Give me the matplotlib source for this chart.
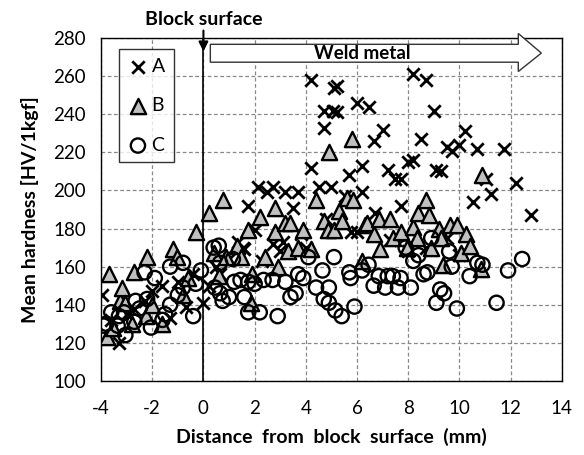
import numpy as np
import matplotlib
matplotlib.use('Agg')
from matplotlib import pyplot as plt
from matplotlib.patches import Polygon

plt.rcParams['font.family'] = ['Lato', 'DejaVu Sans']
plt.rcParams['axes.unicode_minus'] = False

# series A (x markers)
a_x = [-3.95, -3.3, -3.6, -3.0, -2.7, -2.3, -2.0, -1.6, -1.3, -1.0, -0.7, -0.4, 0.0, 0.2, 0.5,
       0.65, 1.0, 1.35, 1.55, 1.6, 1.75, 2.0, 2.15, 2.3, 2.5, 2.7, 2.7, 3.0, 3.1, 3.2, 3.5, 3.7,
       3.8, 4.0, 4.2, 4.2, 4.5, 4.7, 4.7, 4.8, 5.0, 5.05, 5.1, 5.2, 5.2, 5.55, 5.7, 5.75, 6.0,
       6.0, 6.2, 6.2, 6.45, 6.65, 6.7, 7.0, 7.2, 7.3, 7.5, 7.7, 7.7, 8.0, 8.0, 8.2, 8.2, 8.5,
       8.7, 8.7, 9.0, 9.1, 9.3, 9.5, 9.5, 9.7, 10.0, 10.0, 10.2, 10.55, 10.7, 11.05, 11.25,
       11.75, 12.2, 12.8]
a_y = [145, 120, 132, 135, 138, 142, 147, 150, 133, 152, 139, 156, 141, 150, 160,
       156, 164, 173, 170, 169, 192, 179, 202, 163, 199, 202, 172, 168, 173, 199, 191, 199,
       177, 170, 212, 258, 202, 242, 233, 185, 202, 242, 254, 255, 241, 197, 208, 178, 246,
       178, 213, 199, 244, 226, 188, 232, 211, 174, 206, 206, 192, 215, 168, 216, 261, 227,
       258, 170, 242, 211, 210, 223, 175, 221, 224, 166, 231, 194, 222, 206, 198,
       222, 204, 187]

# series B (triangles)
b_x = [-3.75, -3.7, -3.55, -3.25, -3.2, -3.05, -2.8, -2.7, -2.25, -2.2, -2.0, -1.6, -1.2,
       -1.05, -0.8, -0.6, -0.3, 0.2, 0.4, 0.6, 0.75, 0.9, 1.3, 1.45, 1.75, 1.85, 1.9, 2.2,
       2.4, 2.8, 2.8, 2.9, 3.2, 3.4, 3.3, 3.7, 3.9, 4.2, 4.4, 4.7, 4.85, 4.9, 5.1, 5.3, 5.4,
       5.6, 5.85, 5.8, 6.2, 6.3, 6.4, 6.65, 6.85, 6.9, 7.3, 7.4, 7.7, 7.95, 8.2, 8.35, 8.4,
       8.7, 8.8, 8.9, 9.2, 9.3, 9.35, 9.65, 9.9, 10.05, 10.25, 10.4, 10.85, 10.9]
b_y = [123, 156, 128, 142, 149, 141, 130, 157, 134, 165, 140, 130, 169,
       165, 145, 154, 178, 188, 167, 155, 195, 165, 171, 165, 179, 141, 156, 186,
       165, 191, 178, 160, 183, 183, 168, 170, 179, 169, 195, 184, 179, 220, 179, 189, 184,
       196, 195, 227, 163, 182, 183, 177, 185, 169, 185, 175, 178, 170, 181, 175, 188,
       195, 187, 170, 180, 175, 161, 182, 182, 167, 177, 171, 159, 208]

# series C (circles)
c_x = [-3.9, -3.8, -3.6, -3.35, -3.3, -3.1, -3.05, -2.7, -2.65, -2.5, -2.3, -2.2, -2.05,
       -1.9, -1.6, -1.5, -1.3, -1.3, -1.0, -0.8, -0.8, -0.4, -0.3, -0.1, 0.4, 0.45, 0.6,
       0.65, 0.65, 0.75, 1.0, 1.15, 1.2, 1.45, 1.6, 1.75, 1.75, 2.0, 2.2, 2.35, 2.7, 2.9,
       3.2, 3.4, 3.6, 3.7, 3.9, 4.1, 4.4, 4.65, 4.7, 4.9, 4.9, 5.1, 5.15, 5.4, 5.7, 5.75,
       5.9, 6.2, 6.45, 6.65, 6.85, 7.1, 7.2, 7.4, 7.6, 7.7, 7.9, 8.1, 8.2, 8.4, 8.6, 8.75,
       8.9, 9.1, 9.25, 9.4, 9.6, 9.7, 9.9, 10.4, 10.7, 10.9, 11.45, 11.9, 12.45]
c_y = [129, 130, 136, 129, 134, 136, 124, 131, 142, 138, 157, 143, 128,
       154, 132, 135, 160, 140, 145, 162, 149, 134, 151, 158, 170, 149, 171,
       162, 146, 142, 144, 164, 152, 153, 144, 152, 136, 151, 136, 153, 153, 134,
       152, 144, 146, 156, 154, 165, 149, 158, 143, 149, 141, 165, 137, 134, 157, 154,
       139, 158, 161, 150, 155, 149, 155, 155, 149, 154, 170, 149, 163, 166, 156, 157,
       175, 141, 148, 146, 168, 160, 138, 155, 162, 161, 141, 158, 164]

fig = plt.figure(figsize=(5.84, 4.55), dpi=100)
ax = fig.add_axes([0.173, 0.163, 0.789, 0.753])

ax.scatter(a_x, a_y, marker='x', s=80, c='black', linewidths=2.0, label='A', zorder=3)
ax.scatter(b_x, b_y, marker='^', s=120, c='#c0c0c0', edgecolors='black', linewidths=1.7,
           label='B', zorder=3)
ax.scatter(c_x, c_y, marker='o', s=105, facecolors='none', edgecolors='black',
           linewidths=1.7, label='C', zorder=4)

ax.set_xlim(-4, 14)
ax.set_ylim(100, 280)
ax.set_xticks(np.arange(-4, 15, 2))
ax.set_yticks(np.arange(100, 281, 20))
ax.tick_params(length=0, labelsize=13.5)
ax.tick_params(axis='x', pad=14)
ax.tick_params(axis='y', pad=11)
ax.grid(True, linestyle=(0, (3, 2)), color='#888888', linewidth=0.9)
ax.set_axisbelow(True)
ax.axvline(0, color='black', linewidth=1.2, zorder=2)
for s in ax.spines.values():
    s.set_linewidth(1.0)

ax.set_xlabel('Distance  from  block  surface  (mm)', fontsize=14, fontweight='bold', labelpad=8)
ax.set_ylabel('Mean hardness [HV/1kgf]', fontsize=14, fontweight='bold', labelpad=10)

leg = ax.legend(loc='upper left', bbox_to_anchor=(0.04, 0.968), fontsize=14, frameon=True,
                fancybox=False, edgecolor='black', labelspacing=1.15, handletextpad=0.2,
                handlelength=1.0, borderpad=0.45, borderaxespad=0, scatterpoints=1)
leg.get_frame().set_linewidth(1.0)

# weld metal block arrow
arrow = Polygon([(0.27, 267.4), (12.3, 267.4), (12.3, 262.5), (13.2, 272.2),
                 (12.3, 282.5), (12.3, 276.8), (0.27, 276.8)], closed=True,
                facecolor='white', edgecolor='#333333', linewidth=1.0, clip_on=False, zorder=5)
ax.add_patch(arrow)
ax.text(6.2, 272.2, 'Weld metal', ha='center', va='center', fontsize=13.5,
        fontweight='bold', zorder=6)

ax.annotate('Block surface', xy=(0, 273), xytext=(0, 285.5), ha='center', va='bottom',
            fontsize=14, fontweight='bold', annotation_clip=False,
            arrowprops=dict(arrowstyle='-|>', color='black', lw=1.5, shrinkA=0, shrinkB=0))

fig.savefig('out.png', dpi=100)
